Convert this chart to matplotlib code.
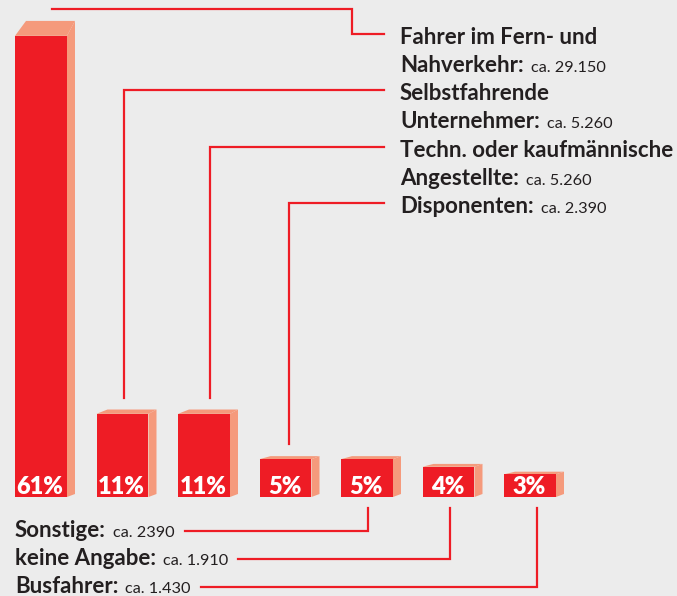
import matplotlib
matplotlib.use("Agg")
import matplotlib.pyplot as plt
from matplotlib.patches import Polygon, Rectangle

# ---------------- data ----------------
label_lines = [
    ["Fahrer im Fern- und", "Nahverkehr:"],
    ["Selbstfahrende", "Unternehmer:"],
    ["Techn. oder kaufmännische", "Angestellte:"],
    ["Disponenten:"],
    ["Sonstige:"],
    ["keine Angabe:"],
    ["Busfahrer:"],
]
shares = [61, 11, 11, 5, 5, 4, 3]
counts = ["ca. 29.150", "ca. 5.260", "ca. 5.260", "ca. 2.390",
          "ca. 2390", "ca. 1.910", "ca. 1.430"]
pct_labels = ["61%", "11%", "11%", "5%", "5%", "4%", "3%"]

# ---------------- style / layout ----------------
W, H = 677, 596
RED = "#ee1c25"
SALMON = "#f59a7c"
BG = "#ececec"
TXT = "#231f20"
FONT = "Lato"

BAR_W = 0.638          # in units of bar spacing
PX_X = 81.5            # px per bar step
PX_Y = 7.56            # px per percent
LEFT_PX = 15
BASE_PX = 497          # from top

fig = plt.figure(figsize=(W / 100, H / 100), dpi=100, facecolor=BG)
ax = fig.add_axes([0, 0, 1, 1])
x0 = -LEFT_PX / PX_X
y0 = -(H - BASE_PX) / PX_Y
ax.set_xlim(x0, x0 + W / PX_X)
ax.set_ylim(y0, y0 + H / PX_Y)
ax.axis("off")
ax.set_facecolor(BG)

lay = fig.add_axes([0, 0, 1, 1], zorder=3)
lay.set_xlim(0, W)
lay.set_ylim(H, 0)
lay.axis("off")
lay.patch.set_alpha(0)


def to_px(x, y):
    dx, dy = ax.transData.transform((x, y))
    return dx, H - dy


dx_side = 8 / PX_X
dx_left = 11 / PX_X
dy_bot = 3 / PX_Y

bar_tops = []
for i, v in enumerate(shares):
    dyt = (2 + 0.028 * v * PX_Y) / PX_Y
    left, right = i, i + BAR_W
    side = Polygon([(right, 0), (right + dx_side, dy_bot),
                    (right + dx_side, v + dyt), (right, v)],
                   closed=True, facecolor=SALMON, edgecolor="none", zorder=1)
    top = Polygon([(left, v), (left + dx_left, v + dyt),
                   (right + dx_side, v + dyt), (right, v)],
                  closed=True, facecolor=SALMON, edgecolor="none", zorder=1)
    ax.add_patch(side)
    ax.add_patch(top)
    ax.add_patch(Rectangle((left, 0), BAR_W, v, facecolor=RED,
                           edgecolor="none", zorder=2))
    cx, _ = to_px(left + BAR_W / 2, 0)
    _, ty = to_px(left, v + dyt)
    bar_tops.append((cx, ty))
    lay.text(cx - 1, BASE_PX - 3, pct_labels[i], color="white", fontsize=17,
             fontweight="heavy", family=FONT, ha="center", va="baseline")

renderer = fig.canvas.get_renderer()
LW = 1.6
BOLD_SIZE = 16
REG_SIZE = 11.7


def label(x, y, bold, regular=None):
    t = lay.text(x, y, bold, fontsize=BOLD_SIZE, fontweight="bold",
                 family=FONT, color=TXT, ha="left", va="baseline")
    bb = t.get_window_extent(renderer)
    end = bb.x1
    if regular:
        t2 = lay.text(bb.x1 + 7, y, regular, fontsize=REG_SIZE,
                      family=FONT, color=TXT, ha="left", va="baseline")
        end = t2.get_window_extent(renderer).x1
    return end


# top labels
TEXT_X = 400
LINE_END_X = 384
top_baselines = [[44, 72], [100, 128], [157, 185], [213]]
conn_off = [11, 2, 6, 4, 1, 2, 7]
for k in range(4):
    lines = label_lines[k]
    bls = top_baselines[k]
    for j, ln in enumerate(lines):
        reg = counts[k] if j == len(lines) - 1 else None
        label(TEXT_X, bls[j], ln, reg)
    cx, ty = bar_tops[k]
    ly = bls[0] - 10
    ystart = ty - 12
    if ly > ystart:
        pts = [(cx + conn_off[k], ystart), (352, ystart), (352, ly),
               (LINE_END_X, ly)]
    else:
        pts = [(cx + conn_off[k], ystart), (cx + conn_off[k], ly),
               (LINE_END_X, ly)]
    xs, ys = zip(*pts)
    lay.plot(xs, ys, color=RED, lw=LW, solid_joinstyle="miter", zorder=2)

# bottom labels
bottom_baselines = [537, 565, 593]
for n, k in enumerate(range(4, 7)):
    bl = bottom_baselines[n]
    end = label(15, bl, label_lines[k][0], counts[k])
    cx, _ = bar_tops[k]
    ly = bl - 6
    xv = cx + conn_off[k]
    lay.plot([end + 10, xv, xv], [ly, ly, BASE_PX + 11], color=RED, lw=LW,
             solid_joinstyle="miter", zorder=2)

fig.savefig("out.png", dpi=100, facecolor=BG)
